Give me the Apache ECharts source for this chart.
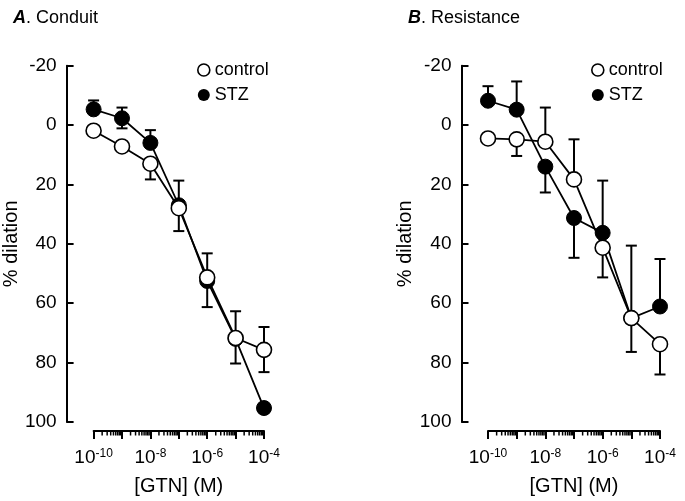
<!DOCTYPE html>
<html>
<head>
<meta charset="utf-8">
<script src="https://cdn.jsdelivr.net/npm/echarts@6/dist/echarts.min.js"></script>
<style>
html,body{margin:0;padding:0;background:#fff;}
#chart{width:685px;height:501px;}
</style>
</head>
<body>
<div id="chart"></div>
<script>
// ---- data ----
const logDose = [-10, -9, -8, -7, -6, -5, -4];          // log10 [GTN] (M)
const xLabelExponents = [-10, -8, -6, -4];              // labelled decades
const yMin = -20, yMax = 100, yStep = 20;               // % dilation ticks

const conduitControl         = [1.9, 7.2, 13, 28, 51.3, 71.7, 75.7];
const conduitControlErrUp    = [1, 1.5, 0, 0, 0, 0, 7.7];
const conduitControlErrDown  = [1, 1.5, 5.3, 7.7, 10, 8.6, 7.5];
const conduitSTZ             = [-5.3, -2.3, 6, 27, 52.5, 72, 95.3];
const conduitSTZErrUp        = [3, 3.6, 4.3, 8.3, 9.3, 9.3, 1.5];
const conduitSTZErrDown      = [1, 3.4, 0, 0, 0, 0, 1.5];

const resistanceControl        = [4.5, 4.8, 5.6, 18.3, 41.3, 65, 73.8];
const resistanceControlErrUp   = [1, 1, 11.5, 13.5, 0, 0, 0];
const resistanceControlErrDown = [1, 5.6, 0, 0, 10, 11.4, 10.2];
const resistanceSTZ            = [-8.2, -5.2, 14, 31.3, 36.3, 65, 61.1];
const resistanceSTZErrUp       = [4.9, 9.5, 0, 0, 17.6, 24.4, 16];
const resistanceSTZErrDown     = [0, 0, 8.7, 13.4, 0, 0, 0];

const panelTitles = [['A', 'Conduit'], ['B', 'Resistance']];
const seriesNames = ['control', 'STZ'];
const yAxisName = '% dilation';
const xAxisName = '[GTN] (M)';

// minor (log) tick positions inside each decade
const minorTicks = [];
for (let d = -10; d < -4; d++) for (let k = 2; k <= 9; k++) minorTicks.push([d + Math.log10(k)]);

// ---- build ----
const FONT = 'Liberation Sans, Arial, sans-serif';
const X_OFFSET = 9;

const grids = [
  {left: 93, right: 421, top: 65.7, bottom: 76.7},
  {left: 488, right: 25, top: 65.7, bottom: 76.7}
];
const yOffsets = [27, 26.5];

function zip(x, v, up, dn) { return x.map((d, i) => [d, v[i], up[i], dn[i]]); }

function errRender(params, api) {
  const x = api.value(0), v = api.value(1), up = api.value(2), dn = api.value(3);
  const c = api.coord([x, v]);
  const t = api.coord([x, v - up]);
  const b = api.coord([x, v + dn]);
  const hw = 5.5;
  const st = {stroke: '#000', lineWidth: 2};
  const ch = [];
  ch.push({type: 'line', shape: {x1: c[0], y1: t[1], x2: c[0], y2: b[1]}, style: st});
  if (up > 0) ch.push({type: 'line', shape: {x1: c[0] - hw, y1: t[1], x2: c[0] + hw, y2: t[1]}, style: st});
  if (dn > 0) ch.push({type: 'line', shape: {x1: c[0] - hw, y1: b[1], x2: c[0] + hw, y2: b[1]}, style: st});
  return {type: 'group', children: ch};
}

function minorRender(params, api) {
  const p = api.coord([api.value(0), yMax]);
  const y0 = p[1] + X_OFFSET;
  return {type: 'line', shape: {x1: p[0], y1: y0, x2: p[0], y2: y0 + 4.5},
          style: {stroke: '#000', lineWidth: 1.5}};
}

const panels = [
  {ctrl: conduitControl, cu: conduitControlErrUp, cd: conduitControlErrDown,
   stz: conduitSTZ, su: conduitSTZErrUp, sd: conduitSTZErrDown},
  {ctrl: resistanceControl, cu: resistanceControlErrUp, cd: resistanceControlErrDown,
   stz: resistanceSTZ, su: resistanceSTZErrUp, sd: resistanceSTZErrDown}
];

const xAxes = [], yAxes = [], series = [], titles = [], legends = [];
const titleLefts = [8, 403];
const legendLefts = [192, 586];

panels.forEach((p, i) => {
  xAxes.push({
    type: 'value', gridIndex: i, min: -10, max: -4, interval: 1,
    offset: X_OFFSET, position: 'bottom',
    name: xAxisName, nameLocation: 'middle', nameGap: 45,
    nameTextStyle: {fontFamily: FONT, fontSize: 20, color: '#000'},
    axisLine: {show: true, onZero: false, lineStyle: {color: '#000', width: 2}},
    axisTick: {show: true, length: 8, lineStyle: {color: '#000', width: 2}},
    splitLine: {show: false},
    axisLabel: {
      margin: 17, color: '#000', fontFamily: FONT,
      formatter: v => xLabelExponents.indexOf(v) >= 0 ? '{b|10}{s|' + v + '}' : '',
      rich: {
        b: {fontSize: 19, lineHeight: 20, fontFamily: FONT, color: '#000'},
        s: {fontSize: 12, lineHeight: 12, verticalAlign: 'top', fontFamily: FONT, color: '#000'}
      }
    }
  });
  yAxes.push({
    type: 'value', gridIndex: i, min: yMin, max: yMax, interval: yStep, inverse: true,
    offset: yOffsets[i],
    name: yAxisName, nameLocation: 'middle', nameGap: 42, nameRotate: 90,
    nameTextStyle: {fontFamily: FONT, fontSize: 20, color: '#000'},
    axisLine: {show: true, onZero: false, lineStyle: {color: '#000', width: 2}},
    axisTick: {show: true, inside: true, length: 7, lineStyle: {color: '#000', width: 2}},
    splitLine: {show: false},
    axisLabel: {margin: 10, color: '#000', fontFamily: FONT, fontSize: 19}
  });

  series.push({
    type: 'custom', name: 'minor' + i, xAxisIndex: i, yAxisIndex: i,
    renderItem: minorRender, data: minorTicks, silent: true, clip: false, z: 1
  });
  series.push({
    type: 'custom', name: 'errSTZ' + i, xAxisIndex: i, yAxisIndex: i,
    renderItem: errRender, data: zip(logDose, p.stz, p.su, p.sd), silent: true, z: 2
  });
  series.push({
    type: 'custom', name: 'errCtrl' + i, xAxisIndex: i, yAxisIndex: i,
    renderItem: errRender, data: zip(logDose, p.ctrl, p.cu, p.cd), silent: true, z: 2
  });
  series.push({
    type: 'line', name: seriesNames[1], xAxisIndex: i, yAxisIndex: i,
    data: logDose.map((d, k) => [d, p.stz[k]]),
    symbol: 'circle', symbolSize: 15, showAllSymbol: true,
    lineStyle: {color: '#000', width: 1.8},
    itemStyle: {color: '#000', borderColor: '#000', borderWidth: 1},
    z: 3, animation: false
  });
  series.push({
    type: 'line', name: seriesNames[0], xAxisIndex: i, yAxisIndex: i,
    data: logDose.map((d, k) => [d, p.ctrl[k]]),
    symbol: 'circle', symbolSize: 15, showAllSymbol: true,
    lineStyle: {color: '#000', width: 1.8},
    itemStyle: {color: '#fff', borderColor: '#000', borderWidth: 1.6},
    z: 4, animation: false
  });

  titles.push({
    text: '{b|' + panelTitles[i][0] + '}. ' + panelTitles[i][1],
    left: titleLefts[i], top: 4,
    textStyle: {
      fontFamily: FONT, fontSize: 18, fontWeight: 'normal', color: '#000',
      rich: {b: {fontFamily: FONT, fontSize: 18, fontWeight: 'bold', fontStyle: 'italic', color: '#000'}}
    }
  });
  legends.push({
    orient: 'vertical', left: legendLefts[i], top: 56,
    itemWidth: 12, itemHeight: 13, itemGap: 7,
    selectedMode: false,
    textStyle: {fontFamily: FONT, fontSize: 18, color: '#000', lineHeight: 15},
    data: [
      {name: seriesNames[0], icon: 'circle', itemStyle: {color: '#fff', borderColor: '#000', borderWidth: 1.6}},
      {name: seriesNames[1], icon: 'circle', itemStyle: {color: '#000', borderWidth: 0}}
    ]
  });
});

const chart = echarts.init(document.getElementById('chart'), null, {renderer: 'canvas'});
chart.setOption({
  backgroundColor: '#fff',
  animation: false,
  title: titles,
  legend: legends,
  grid: grids,
  xAxis: xAxes,
  yAxis: yAxes,
  series: series
});
</script>
</body>
</html>
